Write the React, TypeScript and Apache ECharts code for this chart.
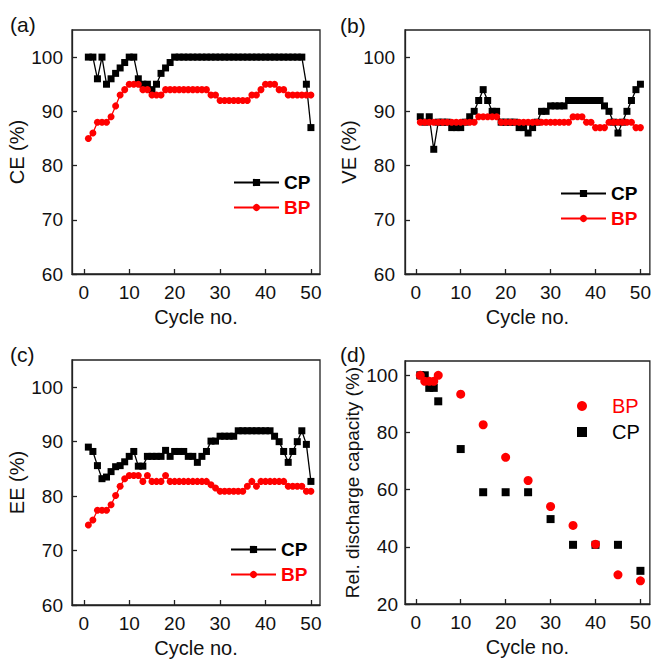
import React, { useEffect, useRef } from 'react';
import * as echarts from 'echarts';

const FONT = '"Liberation Sans", Arial, Helvetica, sans-serif';

// ---- data ----
const cycles = [
  1, 2, 3, 4, 5, 6, 7, 8, 9, 10, 11, 12, 13, 14, 15, 16, 17, 18, 19, 20,
  21, 22, 23, 24, 25, 26, 27, 28, 29, 30, 31, 32, 33, 34, 35, 36, 37, 38, 39, 40,
  41, 42, 43, 44, 45, 46, 47, 48, 49, 50,
];

const ceCP = [
  100, 100, 96, 100, 95, 96, 97, 98, 99, 100,
  100, 96, 95, 95, 94, 95, 97, 98, 99, 100,
  100, 100, 100, 100, 100, 100, 100, 100, 100, 100,
  100, 100, 100, 100, 100, 100, 100, 100, 100, 100,
  100, 100, 100, 100, 100, 100, 100, 100, 95, 87,
];
const ceBP = [
  85, 86, 88, 88, 88, 89, 91, 93, 94, 95,
  95, 95, 94, 94, 93, 93, 93, 94, 94, 94,
  94, 94, 94, 94, 94, 94, 94, 93, 93, 92,
  92, 92, 92, 92, 92, 92, 93, 93, 94, 95,
  95, 95, 94, 94, 93, 93, 93, 93, 93, 93,
];

const veCP = [
  89, 88, 89, 83, 88, 88, 88, 87, 87, 87,
  88, 89, 90, 92, 94, 92, 90, 90, 88, 88,
  88, 88, 87, 87, 86, 87, 88, 90, 90, 91,
  91, 91, 91, 92, 92, 92, 92, 92, 92, 92,
  92, 91, 90, 88, 86, 88, 90, 92, 94, 95,
];
const veBP = [
  88, 88, 88, 88, 88, 88, 88, 88, 88, 88,
  88, 88, 88, 89, 89, 89, 89, 89, 88, 88,
  88, 88, 88, 88, 88, 88, 88, 88, 88, 88,
  88, 88, 88, 88, 89, 89, 89, 88, 88, 87,
  87, 87, 88, 88, 88, 88, 88, 88, 87, 87,
];

const eeCP = [
  89, 88.2, 85.6, 83.2, 83.5, 84.5, 85.4, 85.6, 86.3, 87.3,
  88.2, 85.5, 85.5, 87.3, 87.3, 87.3, 87.3, 88.4, 87.3, 88.2,
  88.2, 88.2, 87.3, 87.3, 86.2, 87.3, 88.2, 90.1, 90.1, 91,
  91, 91, 91, 92, 92, 92, 92, 92, 92, 92,
  92, 91, 90, 88.2, 86.2, 88.2, 90, 92, 89.5, 82.7,
];
const eeBP = [
  74.7, 75.6, 77.4, 77.4, 77.4, 78.4, 80.1, 81.8, 83.2, 83.8,
  83.8, 83.8, 82.7, 83.8, 82.7, 82.7, 82.7, 83.8, 82.7, 82.7,
  82.7, 82.7, 82.7, 82.7, 82.7, 82.7, 82.7, 82.1, 81.5, 80.9,
  80.9, 80.9, 80.9, 80.9, 80.9, 81.8, 82.7, 81.8, 82.7, 82.7,
  82.7, 82.7, 82.7, 82.7, 81.8, 81.8, 81.8, 81.8, 80.9, 80.9,
];

const capCycles = [1, 2, 3, 4, 5, 10, 15, 20, 25, 30, 35, 40, 45, 50];
const capBP = [100, 97.9, 97.9, 97.9, 100, 93.4, 82.7, 71.3, 63.2, 54.1, 47.5, 40.9, 30.2, 28.1];
const capCP = [100, 100, 95.6, 95.6, 90.9, 74.2, 59.1, 59.1, 59.1, 49.7, 40.7, 40.7, 40.7, 31.6];

const xTicks = [0, 10, 20, 30, 40, 50];
const effTicks = [60, 70, 80, 90, 100];
const capTicks = [20, 40, 60, 80, 100];

const RED = '#ff0000';
const BLACK = '#000000';
const AX = '#222222';

const pairs = (xs: number[], ys: number[]) => xs.map((x, i) => [x, ys[i]]);

function makeX(gridIndex: number, min: number, max: number) {
  return {
    type: 'value',
    gridIndex,
    min,
    max,
    name: 'Cycle no.',
    nameLocation: 'middle',
    nameGap: 33,
    nameTextStyle: { fontSize: 20, color: '#111', fontFamily: FONT },
    axisLine: { show: true, onZero: false, lineStyle: { color: AX, width: 1.3 } },
    axisTick: { show: true, inside: true, length: 5, lineStyle: { color: AX, width: 1.3 }, customValues: xTicks },
    axisLabel: { show: true, margin: 9, fontSize: 19, color: '#111', fontFamily: FONT, customValues: xTicks },
    splitLine: { show: false },
  };
}

function makeY(gridIndex: number, min: number, max: number, ticks: number[], name: string, nameGap: number, fs: number, margin: number) {
  return {
    type: 'value',
    gridIndex,
    min,
    max,
    name,
    nameLocation: 'middle',
    nameGap,
    nameTextStyle: { fontSize: fs, color: '#111', fontFamily: FONT },
    axisLine: { show: true, onZero: false, lineStyle: { color: AX, width: 1.3 } },
    axisTick: { show: true, inside: true, length: 5, lineStyle: { color: AX, width: 1.3 }, customValues: ticks },
    axisLabel: { show: true, margin, fontSize: 19, color: '#111', fontFamily: FONT, customValues: ticks },
    splitLine: { show: false },
  };
}

function lineSeries(name: string, idx: number, ys: number[], color: string, symbol: string, size: number) {
  return {
    type: 'line',
    name,
    xAxisIndex: idx,
    yAxisIndex: idx,
    data: pairs(cycles, ys),
    symbol,
    symbolSize: size,
    showAllSymbol: true,
    lineStyle: { color, width: 1.3 },
    itemStyle: { color, opacity: 1 },
  };
}

function scatterSeries(name: string, ys: number[], color: string, symbol: string, size: number) {
  return {
    type: 'scatter',
    name,
    xAxisIndex: 3,
    yAxisIndex: 3,
    data: pairs(capCycles, ys),
    symbol,
    symbolSize: size,
    itemStyle: { color, opacity: 1 },
  };
}

function lineLegend(suffix: string, left: number, top: number) {
  return {
    orient: 'vertical',
    left,
    top,
    itemWidth: 45,
    itemHeight: 9,
    itemGap: 6,
    selectedMode: false,
    data: [
      { name: 'CP_' + suffix, textStyle: { color: BLACK } },
      { name: 'BP_' + suffix, textStyle: { color: RED } },
    ],
    formatter: (n: string) => n.split('_')[0],
    textStyle: { fontSize: 19, fontWeight: 'bold', fontFamily: FONT },
  };
}

const grids = [
  { left: 72, top: 30, width: 248, height: 244 },
  { left: 405, top: 30, width: 245, height: 244 },
  { left: 72, top: 360, width: 248, height: 245 },
  { left: 405, top: 361, width: 245, height: 243 },
].map((g) => ({ ...g, show: true, borderColor: AX, borderWidth: 1.3, backgroundColor: 'transparent' }));

export default function App() {
  const ref = useRef<HTMLDivElement>(null);
  useEffect(() => {
    if (!ref.current) return;
    const chart = echarts.init(ref.current, null, { renderer: 'svg' });
    chart.setOption({
      animation: false,
      backgroundColor: '#ffffff',
      textStyle: { fontFamily: FONT },
      grid: grids,
      xAxis: [makeX(0, -2.6, 52), makeX(1, -2.4, 52.1), makeX(2, -2.6, 52), makeX(3, -2.4, 52.1)],
      yAxis: [
        makeY(0, 60, 105, effTicks, 'CE (%)', 37, 20, 9),
        makeY(1, 60, 105, effTicks, 'VE (%)', 38, 20, 10),
        makeY(2, 60, 105, effTicks, 'EE (%)', 37, 20, 9),
        makeY(3, 20, 105, capTicks, 'Rel. discharge capacity (%)', 42, 19, 7),
      ],
      legend: [
        lineLegend('a', 228, 168),
        lineLegend('b', 555, 179),
        lineLegend('c', 225, 535),
        {
          orient: 'vertical',
          left: 572,
          top: 391,
          itemWidth: 10,
          itemHeight: 10,
          itemGap: 6,
          selectedMode: false,
          data: [
            { name: 'BP_d', icon: 'circle', textStyle: { color: RED } },
            { name: 'CP_d', icon: 'rect', textStyle: { color: BLACK } },
          ],
          formatter: (n: string) => n.split('_')[0],
          textStyle: { fontSize: 20, fontFamily: FONT, padding: [0, 0, 0, 20] },
        },
      ],
      graphic: [
        { type: 'text', x: 10, y: 24, style: { text: '(a)', fontSize: 21, fontFamily: FONT, fill: '#111', verticalAlign: 'middle' } },
        { type: 'text', x: 340, y: 25, style: { text: '(b)', fontSize: 21, fontFamily: FONT, fill: '#111', verticalAlign: 'middle' } },
        { type: 'text', x: 10, y: 354, style: { text: '(c)', fontSize: 21, fontFamily: FONT, fill: '#111', verticalAlign: 'middle' } },
        { type: 'text', x: 340, y: 354, style: { text: '(d)', fontSize: 21, fontFamily: FONT, fill: '#111', verticalAlign: 'middle' } },
      ],
      series: [
        lineSeries('CP_a', 0, ceCP, BLACK, 'rect', 7),
        lineSeries('BP_a', 0, ceBP, RED, 'circle', 7),
        lineSeries('CP_b', 1, veCP, BLACK, 'rect', 7),
        lineSeries('BP_b', 1, veBP, RED, 'circle', 7),
        lineSeries('CP_c', 2, eeCP, BLACK, 'rect', 7),
        lineSeries('BP_c', 2, eeBP, RED, 'circle', 7),
        scatterSeries('CP_d', capCP, BLACK, 'rect', 8),
        scatterSeries('BP_d', capBP, RED, 'circle', 9),
      ],
    });
    return () => chart.dispose();
  }, []);
  return (
    <div
      ref={ref}
      style={{ position: 'absolute', left: 0, top: 0, width: 654, height: 663, background: '#fff' }}
    />
  );
}
